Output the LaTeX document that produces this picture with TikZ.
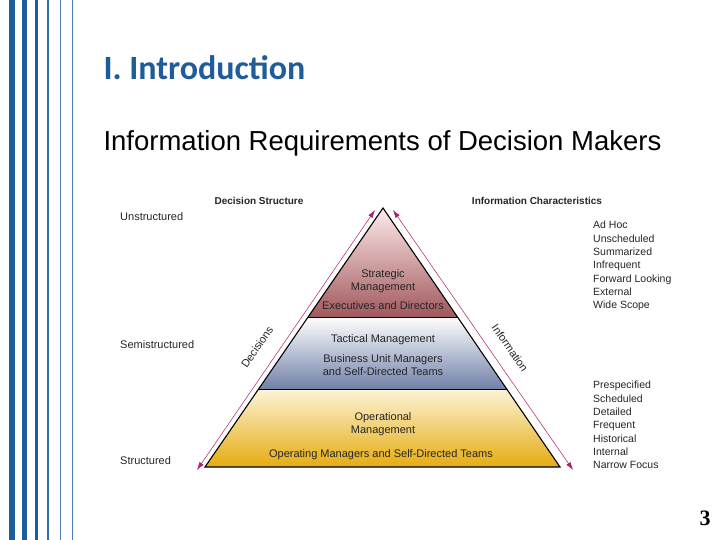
\documentclass[tikz,border=0pt]{standalone}
\usepackage{fontspec}
\setmainfont{Liberation Sans}
\newfontfamily\titlefont{Carlito}
\newfontfamily\numfont{Liberation Serif}
\usetikzlibrary{arrows.meta}
\definecolor{stripe}{HTML}{1F5C99}
\definecolor{titleblue}{HTML}{1F5C99}
\definecolor{mag}{HTML}{B0206A}
\tikzset{
  small/.style={font=\fontsize{11}{12.5}\selectfont, align=center, text=black!85},
  lst/.style={font=\fontsize{10.5}{13.3}\selectfont, anchor=north west, align=left, text=black!85, inner sep=0},
  hdr/.style={font=\fontsize{10}{12}\selectfont\bfseries, text=black!85},
  arr/.style={mag, line width=0.5pt, {Latex[length=8pt,width=5pt]}-{Latex[length=8pt,width=5pt]}}
}
\begin{document}
\begin{tikzpicture}[x=1pt,y=-1pt]
\useasboundingbox (0,0) rectangle (720,540);
\fill[white] (0,0) rectangle (720,540);
% stripes
\fill[stripe] (9,0) rectangle (15,540);
\fill[stripe] (22,0) rectangle (27,540);
\fill[stripe] (35,0) rectangle (38,540);
\fill[stripe!90] (47,0) rectangle (49,540);
\fill[stripe!80] (60,0) rectangle (61.3,540);
\fill[stripe!80] (72,0) rectangle (73.2,540);
\node[anchor=west, font=\titlefont\fontsize{34}{38}\selectfont\bfseries, text=titleblue] (title) at (100,68) {I. Introduction};
\node[anchor=west, font=\fontsize{27.5}{30}\selectfont] (sub) at (100,143) {Information Requirements of Decision Makers};
% pyramid bands
\coordinate (A) at (383,208);
\coordinate (L) at (205,467);
\coordinate (R) at (560,467);
\begin{scope}
\clip (A) -- (L) -- (R) -- cycle;
\shade[top color=red!8!white, bottom color={rgb,255:red,160;green,88;blue,92}] (200,208) rectangle (565,317);
\shade[top color=white, bottom color={rgb,255:red,112;green,128;blue,168}] (200,317) rectangle (565,389);
\shade[top color={rgb,255:red,252;green,244;blue,215}, bottom color={rgb,255:red,230;green,172;blue,16}] (200,389) rectangle (565,467);
\end{scope}
\draw[line width=0.6pt] (308.1,317) -- (457.5,317);
\draw[line width=0.6pt] (258.6,389) -- (506.7,389);
\draw[line width=1.1pt, line join=miter] (A) -- (L) -- (R) -- cycle;
\node[small] (s1) at (383,281) {Strategic\\Management};
\node[small] (s2) at (383,306) {Executives and Directors};
\node[small] (t1) at (383,340) {Tactical Management};
\node[small] (t2) at (383,365) {Business Unit Managers\\and Self-Directed Teams};
\node[small] (o1) at (383,424) {Operational\\Management};
\node[small] (o2) at (381,455) {Operating Managers and Self-Directed Teams};
% arrows
\coordinate (la) at (197,470); \coordinate (lb) at (375,210);
\coordinate (ra) at (393,210); \coordinate (rb) at (573,470);
\draw[arr] (la) -- (lb);
\draw[arr] (ra) -- (rb);
\node[small, rotate=55.6] (dec) at (257,347) {Decisions};
\node[small, rotate=-55.4] (inf) at (510,348) {Information};
% headers
\node[hdr] (h1) at (259,201) {Decision Structure};
\node[hdr] (h2) at (537,201) {Information Characteristics};
\node[small, anchor=west, inner sep=0] (u) at (120,217) {Unstructured};
\node[small, anchor=west, inner sep=0] (se) at (120,345) {Semistructured};
\node[small, anchor=west, inner sep=0] (st) at (120,461) {Structured};
\node[lst] (l1) at (593,221) {Ad Hoc\\Unscheduled\\Summarized\\Infrequent\\Forward Looking\\External\\Wide Scope};
\node[lst] (l2) at (593,381) {Prespecified\\Scheduled\\Detailed\\Frequent\\Historical\\Internal\\Narrow Focus};
\node[font=\numfont\fontsize{22}{24}\selectfont\bfseries] (num) at (705,518) {3};
\end{tikzpicture}
\end{document}
